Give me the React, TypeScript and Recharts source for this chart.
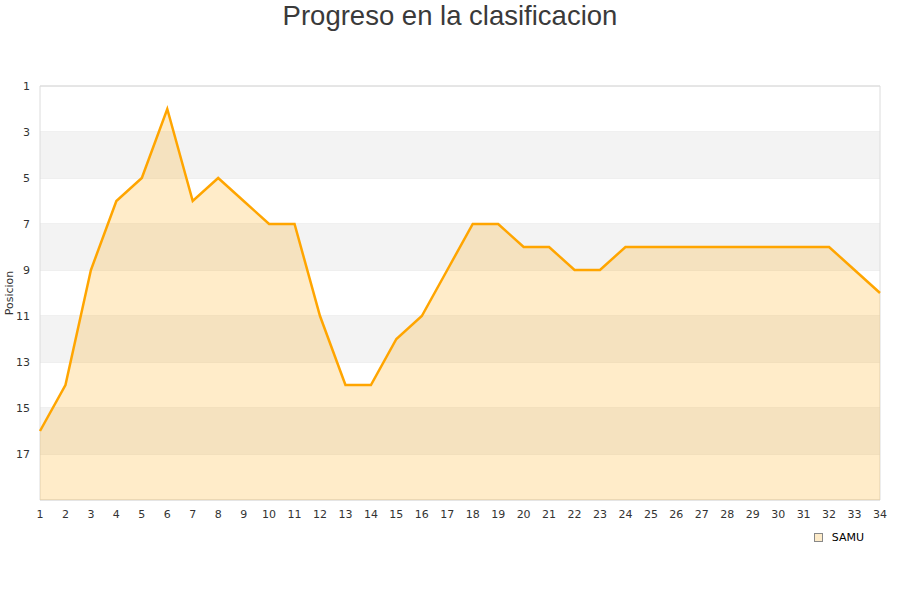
import { Area, AreaChart, CartesianGrid, Legend, ReferenceArea, XAxis, YAxis } from "recharts";

const jornadas = [1, 2, 3, 4, 5, 6, 7, 8, 9, 10, 11, 12, 13, 14, 15, 16, 17, 18, 19, 20, 21, 22, 23, 24, 25, 26, 27, 28, 29, 30, 31, 32, 33, 34];
const posiciones = [16, 14, 9, 6, 5, 2, 6, 5, 6, 7, 7, 11, 14, 14, 12, 11, 9, 7, 7, 8, 8, 9, 9, 8, 8, 8, 8, 8, 8, 8, 8, 8, 9, 10];
const yTicks = [1, 3, 5, 7, 9, 11, 13, 15, 17];
const bandas: [number, number][] = [[3, 5], [7, 9], [11, 13], [15, 17]];

const data = jornadas.map((j, i) => ({ jornada: j, SAMU: posiciones[i] }));

const tickStyle = { fontFamily: "DejaVu Sans", fontSize: 11, fill: "#333" };

function LegendBox() {
  return (
    <div style={{ display: "flex", alignItems: "center", justifyContent: "flex-end", fontFamily: "DejaVu Sans", fontSize: 11, color: "#000" }}>
      <span style={{ display: "inline-block", width: 7, height: 7, background: "#fdebc9", border: "1px solid #888", marginRight: 9 }} />
      <span>SAMU</span>
    </div>
  );
}

export default function App() {
  return (
    <div style={{ position: "absolute", left: 0, top: 0, width: 900, height: 600, background: "#fff" }}>
      <div
        style={{
          position: "absolute",
          top: 0,
          width: 900,
          textAlign: "center",
          fontFamily: "Liberation Sans",
          fontSize: 27.5,
          color: "#3a3a3a",
          lineHeight: "31px",
        }}
      >
        Progreso en la clasificacion
      </div>
      <AreaChart width={900} height={600} data={data} margin={{ top: 86, right: 20, left: 0, bottom: 57 }}>
        {bandas.map(([a, b]) => (
          <ReferenceArea key={a} y1={a} y2={b} x1={1} x2={34} fill="#f3f3f3" fillOpacity={1} stroke="none" ifOverflow="hidden" />
        ))}
        <CartesianGrid vertical={false} stroke="#e0e0e0" />
        <ReferenceArea x1={1} x2={34} y1={1} y2={19} fill="none" stroke="#dcdcdc" strokeWidth={1} />
        <XAxis
          dataKey="jornada"
          type="number"
          domain={[1, 34]}
          ticks={jornadas}
          interval={0}
          axisLine={false}
          tickLine={false}
          tickSize={8}
          height={30}
          tick={tickStyle}
        />
        <YAxis
          type="number"
          reversed
          domain={[1, 19]}
          ticks={yTicks}
          interval={0}
          axisLine={false}
          tickLine={false}
          tickSize={8}
          width={40}
          tick={tickStyle}
          label={{ value: "Posicion", angle: -90, position: "insideLeft", offset: 9, style: { fontFamily: "DejaVu Sans", fontSize: 11, fill: "#333", textAnchor: "middle" } }}
        />
        <Legend verticalAlign="bottom" align="right" content={<LegendBox />} wrapperStyle={{ right: 36, bottom: 56, width: 200 }} />
        <Area
          type="linear"
          dataKey="SAMU"
          baseValue="dataMax"
          stroke="#ffa500"
          strokeWidth={2.5}
          fill="#ffa500"
          fillOpacity={0.21}
          dot={false}
          activeDot={false}
          isAnimationActive={false}
        />
      </AreaChart>
    </div>
  );
}
